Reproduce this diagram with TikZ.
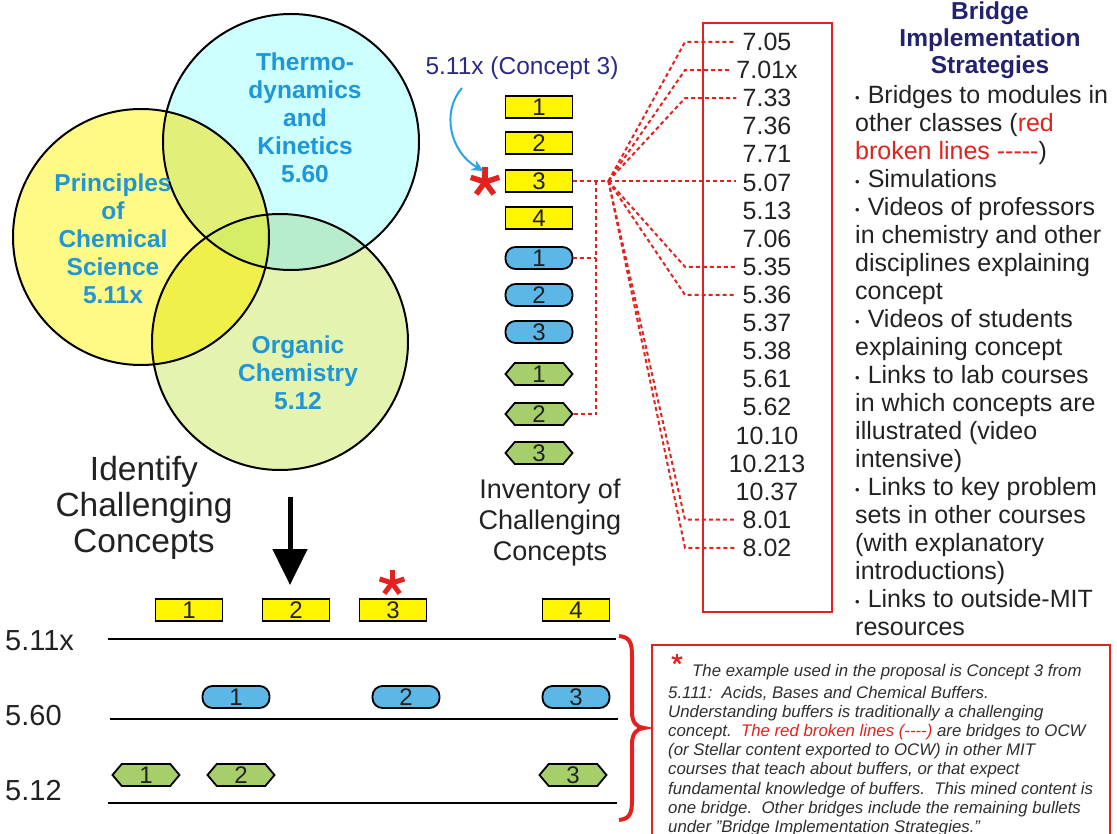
\documentclass[tikz,border=0pt]{standalone}
\usepackage{fontspec}
\setmainfont{Liberation Sans}
\usetikzlibrary{shapes.symbols,arrows.meta}
\definecolor{rd}{HTML}{E3221F}
\definecolor{vennblue}{HTML}{1E96D7}
\definecolor{navy}{HTML}{22226E}
\definecolor{navyb}{HTML}{2B2B85}
\definecolor{cyanf}{HTML}{CDFFFF}
\definecolor{yelf}{HTML}{FFFA85}
\definecolor{grnf}{HTML}{E4F3B0}
\definecolor{ycf}{HTML}{E2F07A}
\definecolor{ygf}{HTML}{F0F04A}
\definecolor{cgf}{HTML}{B8EDCC}
\definecolor{ycgf}{HTML}{D6EE66}
\definecolor{boxyel}{HTML}{FFF500}
\definecolor{boxblue}{HTML}{5CB6E6}
\definecolor{boxgrn}{HTML}{A6CF6C}
\definecolor{arrowblue}{HTML}{2AA4E4}
\definecolor{notegray}{HTML}{2E2E2E}
\definecolor{txt}{HTML}{222222}
\newcommand\bul{\raisebox{0.5pt}{\fontsize{13}{13}\selectfont\textbullet}\hspace{8pt}}
\newcommand\hy{-\kern0pt}
\begin{document}
\begin{tikzpicture}[x=1pt,y=-1pt,
  ybox/.style={draw=black, line width=1.8pt, fill=boxyel, minimum width=67pt, minimum height=22pt, inner sep=0pt, text=txt, font=\fontsize{24}{24}\selectfont},
  bbox/.style={ybox, fill=boxblue, rounded corners=10pt},
  gbox/.style={ybox, fill=boxgrn, shape=signal, signal to=west and east, signal pointer angle=100},
  venn/.style={draw=black, line width=2pt},
  vtext/.style={text=vennblue, font=\bfseries\fontsize{24.5}{28}\selectfont, align=center},
  num/.style={font=\fontsize{25}{25}\selectfont, text=txt, inner sep=6pt},
  link/.style={draw=rd, dash pattern=on 4pt off 3pt, line width=2pt},
  big/.style={font=\fontsize{33.5}{36}\selectfont, text=txt, align=center},
  mid/.style={font=\fontsize{27}{31}\selectfont, text=txt, align=center},
  lab/.style={font=\fontsize{29}{29}\selectfont, text=txt, anchor=west, inner sep=0pt},
  rowline/.style={line width=2pt, draw=black},
  pics/redstar/.style 2 args={code={\foreach \a in {-90,-18,54,126,198}{\draw[rd,line width=#2] (0,0) -- (\a:#1);}}}
]
\useasboundingbox (0,0) rectangle (1117,834);
% ---------- Venn diagram
\fill[cyanf] (291,142) circle (128pt);
\fill[yelf] (141,237) circle (128pt);
\fill[grnf] (280,342) circle (128pt);
\begin{scope}
  \clip (291,142) circle (128pt);
  \fill[cgf] (280,342) circle (128pt);
\end{scope}
\begin{scope}
  \clip (141,237) circle (128pt);
  \fill[ycf] (291,142) circle (128pt);
  \fill[ygf] (280,342) circle (128pt);
  \clip (291,142) circle (128pt);
  \fill[ycgf] (280,342) circle (128pt);
\end{scope}
\draw[venn] (291,142) circle (128pt);
\draw[venn] (141,237) circle (128pt);
\draw[venn] (280,342) circle (128pt);
\node[vtext] (thermo) at (305,118) {Thermo-\\dynamics\\and\\Kinetics\\5.60};
\node[vtext] (princ) at (113,239) {Principles\\of\\Chemical\\Science\\5.11x};
\node[vtext] (organic) at (298,373) {Organic\\Chemistry\\5.12};
% ---------- Identify
\node[big] (identify) at (144,508) {Identify\\Challenging\\Concepts};
\coordinate (a1) at (290,497);
\coordinate (a2) at (290,585);
\draw[line width=5pt, -{Triangle[width=34pt,length=36pt]}] (a1) -- (a2);
% ---------- Inventory
\node[font=\fontsize{24.5}{24.5}\selectfont, text=navyb] (c3label) at (522,68) {5.11x (Concept 3)};
\node[ybox] (r1) at (539,107) {1};
\node[ybox] (r2) at (539,143) {2};
\node[ybox] (r3) at (539,181) {3};
\node[ybox] (r4) at (539,218) {4};
\node[bbox] (b1) at (539,258) {1};
\node[bbox] (b2) at (539,295) {2};
\node[bbox] (b3) at (539,332) {3};
\node[gbox] (g1) at (539,374) {1};
\node[gbox] (g2) at (539,414) {2};
\node[gbox] (g3) at (539,453) {3};
\node[mid] (inv) at (550,523) {Inventory of\\Challenging\\Concepts};
\pic at (485,182) {redstar={15}{5.5pt}};
\draw[arrowblue, line width=2pt, -{Stealth[length=12pt,width=11pt]}]
  ([xshift=-60pt,yshift=-5pt]c3label.south) .. controls (441,112) and (450,152) .. ([xshift=-21pt,yshift=-2pt]r3.north west);
% ---------- Numbers column
\foreach \t [count=\i] in {7.05,7.01x,7.33,7.36,7.71,5.07,5.13,7.06,5.35,5.36,5.37,5.38,5.61,5.62,10.10,10.213,10.37,8.01,8.02}
  \node[num] (n\i) at (767,{42+28.1*(\i-1)}) {\t};
\node[draw=rd, line width=2.5pt, minimum width=129pt, minimum height=589pt, inner sep=0pt] (numbox) at (767.5,317.5) {};
\coordinate (J) at ([xshift=35pt]r3.east);
\coordinate (V) at ([xshift=23pt]r3.east);
\coordinate (cx) at (685,0);
\draw[link] (r3.east) -- (J) -- (J -| n6.west);
\foreach \k in {1,2,3,9,10,18,19}
  \draw[link] (J) -- (cx |- n\k.west) -- (n\k.west);
\draw[link] (b1.east) -- (V |- b1.east);
\draw[link] (g2.east) -- (V |- g2.east) -- (V);
% ---------- Strategies
\node[font=\bfseries\fontsize{24.5}{27}\selectfont, text=navy, align=center] (bt) at (990,40) {Bridge\\Implementation\\Strategies};
\node[anchor=north west, align=left, inner sep=0pt, text=txt, font=\fontsize{25}{28}\selectfont] (bl) at (855,85) {%
\bul Bridges to modules in\\
other classes (\textcolor{rd}{red}\\
\textcolor{rd}{broken lines \hy\hy\hy\hy-})\\
\bul Simulations\\
\bul Videos of professors\\
in chemistry and other\\
disciplines explaining\\
concept\\
\bul Videos of students\\
explaining concept\\
\bul Links to lab courses\\
in which concepts are\\
illustrated (video\\
intensive)\\
\bul Links to key problem\\
sets in other courses\\
(with explanatory\\
introductions)\\
\bul Links to outside-MIT\\
resources};
% ---------- Bottom timeline
\node[lab] (l1) at (5,641) {5.11x};
\node[lab] (l2) at (5,716) {5.60};
\node[lab] (l3) at (5,791) {5.12};
\coordinate (s1) at (108,639); \coordinate (e1) at (616,639);
\coordinate (s2) at (110,719); \coordinate (e2) at (618,719);
\coordinate (s3) at (108,803); \coordinate (e3) at (617,803);
\draw[rowline] (s1) -- (e1);
\draw[rowline] (s2) -- (e2);
\draw[rowline] (s3) -- (e3);
\node[ybox] (t1) at (189,610) {1};
\node[ybox] (t2) at (296,610) {2};
\node[ybox] (t3) at (393,610) {3};
\node[ybox] (t4) at (576,610) {4};
\pic at (392,583) {redstar={13}{5pt}};
\node[bbox] (u1) at (236,697) {1};
\node[bbox] (u2) at (406,697) {2};
\node[bbox] (u3) at (576,697) {3};
\node[gbox] (v1) at (146,775) {1};
\node[gbox] (v2) at (241,775) {2};
\node[gbox] (v3) at (573,775) {3};
\draw[rd, line width=4pt] (619,636) .. controls (630,637) and (632,643) .. (632,656) -- (632,712)
  .. controls (632,722) and (636,727) .. (644,728) .. controls (636,729) and (632,734) .. (632,744)
  -- (632,800) .. controls (632,813) and (630,819) .. (619,820);
% ---------- Note
\draw[rd, line width=2pt] (652,840) -- (652,645) -- (1110,645) -- (1110,840);
\pic at (677,659) {redstar={5.5}{2.2pt}};
\node[anchor=north west, align=left, inner sep=0pt, text=notegray, font=\itshape\fontsize{16.8}{19.2}\selectfont] (note) at (668,664) {%
\hspace*{24pt}The example used in the proposal is Concept 3 from\\[2.5pt]
5.111:\ \ Acids, Bases and Chemical Buffers.\\
Understanding buffers is traditionally a challenging\\
concept.\ \ \textcolor{rd}{The red broken lines (\hy\hy\hy-)} are bridges to OCW\\
(or Stellar content exported to OCW) in other MIT\\
courses that teach about buffers, or that expect\\
fundamental knowledge of buffers.\ \ This mined content is\\
one bridge.\ \ Other bridges include the remaining bullets\\
under "Bridge Implementation Strategies."};
\end{tikzpicture}
\end{document}
